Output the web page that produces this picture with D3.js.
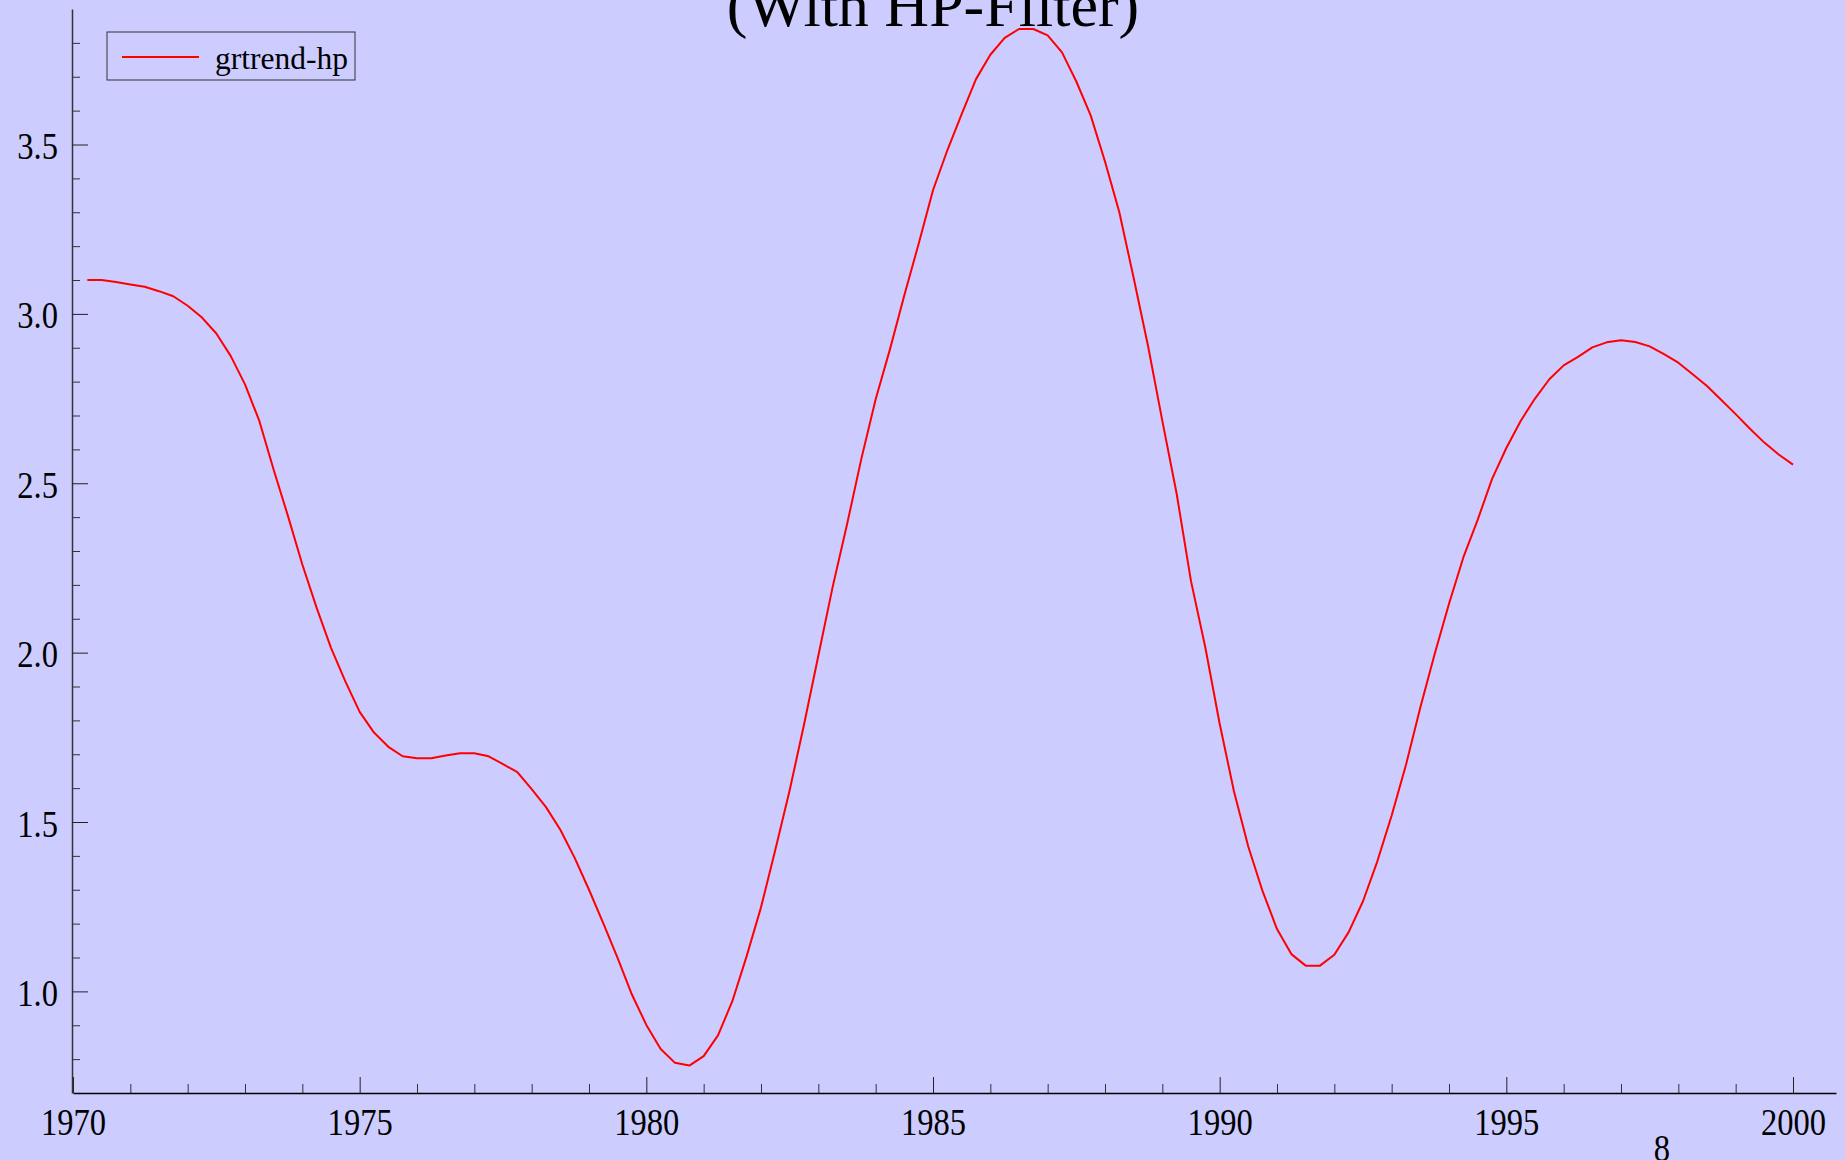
<!DOCTYPE html>
<html>
<head>
<meta charset="utf-8">
<script src="https://cdn.jsdelivr.net/npm/d3@7"></script>
<style>
  html, body { margin: 0; padding: 0; background: #ccccff; }
  svg { display: block; }
  text { font-family: "Liberation Serif", "Times New Roman", serif; fill: #000; }
</style>
</head>
<body>
<div id="chart"></div>
<script>
// grtrend-hp, quarterly, first observation 1970 Q2
const seriesName = "grtrend-hp";
const firstPeriod = 1970.25;
const periodStep = 0.25;
const grtrendHp = [
  3.100, 3.100, 3.094, 3.087, 3.080, 3.067, 3.052, 3.024, 2.989, 2.942,
  2.876, 2.792, 2.684, 2.540, 2.403, 2.260, 2.132, 2.014, 1.915, 1.825,
  1.764, 1.722, 1.694, 1.688, 1.688, 1.696, 1.703, 1.703, 1.694, 1.671,
  1.647, 1.597, 1.544, 1.477, 1.394, 1.300, 1.201, 1.098, 0.990, 0.901,
  0.830, 0.789, 0.781, 0.809, 0.870, 0.971, 1.104, 1.248, 1.418, 1.594,
  1.787, 1.991, 2.194, 2.378, 2.572, 2.748, 2.896, 3.055, 3.207, 3.365,
  3.483, 3.590, 3.693, 3.765, 3.815, 3.841, 3.841, 3.822, 3.772, 3.686,
  3.586, 3.450, 3.300, 3.106, 2.906, 2.684, 2.469, 2.211, 2.015, 1.790,
  1.590, 1.427, 1.295, 1.184, 1.110, 1.076, 1.076, 1.108, 1.175, 1.266,
  1.384, 1.519, 1.669, 1.838, 1.996, 2.144, 2.281, 2.392, 2.512, 2.604,
  2.684, 2.750, 2.807, 2.848, 2.873, 2.901, 2.916, 2.922, 2.917, 2.904,
  2.881, 2.856, 2.822, 2.787, 2.746, 2.704, 2.661, 2.620, 2.585, 2.555
];
const xMajorTicks = [1970, 1975, 1980, 1985, 1990, 1995, 2000];
const xMinorTicks = d3.range(1971, 2001).filter(y => y % 5 !== 0);
const yMajorTicks = [1.0, 1.5, 2.0, 2.5, 3.0, 3.5];
const yMinorTicks = [0.8, 0.9, 1.1, 1.2, 1.3, 1.4, 1.6, 1.7, 1.8, 1.9,
  2.1, 2.2, 2.3, 2.4, 2.6, 2.7, 2.8, 2.9, 3.1, 3.2, 3.3, 3.4, 3.6, 3.7, 3.8];
const titleText = "(With HP-Filter)";
const pageNumber = "8";

const W = 1845, H = 1160;
const squeeze = "scale(0.88,1)"; // tick digits are drawn narrow and tall

let data = grtrendHp.map((v, i) => ({ t: firstPeriod + i * periodStep, v: v }));

let svg = d3.select("#chart").append("svg")
  .attr("width", W)
  .attr("height", H);

svg.append("rect")
  .attr("width", W).attr("height", H)
  .attr("fill", "#ccccff");

//scales
let x = d3.scaleLinear().domain([1970, 2000.75]).range([73, 1836]);
let y = d3.scaleLinear().domain([0.7, 3.9]).range([1093, 9]);

//minor ticks first
svg.append("g")
  .attr("transform", "translate(0,1093)")
  .call(d3.axisBottom(x).tickValues(xMinorTicks).tickSize(-9).tickSizeOuter(0).tickFormat(""))
  .call(g => g.select(".domain").remove())
  .call(g => g.selectAll("line").attr("stroke", "#333"));

svg.append("g")
  .attr("transform", "translate(72,0)")
  .call(d3.axisLeft(y).tickValues(yMinorTicks).tickSize(-8).tickSizeOuter(0).tickFormat(""))
  .call(g => g.select(".domain").remove())
  .call(g => g.selectAll("line").attr("stroke", "#333"));

//major x axis
let xAxis = svg.append("g")
  .attr("transform", "translate(0,1093)")
  .call(d3.axisBottom(x).tickValues(xMajorTicks).tickSize(-16).tickSizeOuter(0)
    .tickPadding(16).tickFormat(d3.format("d")));
xAxis.select(".domain").attr("stroke", "#000").attr("stroke-width", 1.5);
xAxis.selectAll("line").attr("stroke", "#222");
xAxis.selectAll("text")
  .attr("transform", squeeze)
  .style("font-size", "37px")
  .style("font-family", "Liberation Serif");

//major y axis
let yAxis = svg.append("g")
  .attr("transform", "translate(72,0)")
  .call(d3.axisLeft(y).tickValues(yMajorTicks).tickSize(-16).tickSizeOuter(0)
    .tickPadding(16).tickFormat(d3.format(".1f")));
yAxis.select(".domain").attr("stroke", "#333").attr("stroke-width", 1.5);
yAxis.selectAll("line").attr("stroke", "#222");
yAxis.selectAll("text")
  .attr("transform", squeeze)
  .attr("dy", "0.38em")
  .style("font-size", "37px")
  .style("font-family", "Liberation Serif");

//the series
let line = d3.line()
  .x(d => x(d.t))
  .y(d => y(d.v));

svg.append("path")
  .datum(data)
  .attr("d", line)
  .attr("fill", "none")
  .attr("stroke", "#ff0000")
  .attr("stroke-width", 2)
  .attr("stroke-linejoin", "round");

//title, cut by the top of the page
svg.append("text")
  .attr("x", 933)
  .attr("y", 26)
  .attr("text-anchor", "middle")
  .style("font-size", "62px")
  .text(titleText);

//legend
let legend = svg.append("g");
legend.append("rect")
  .attr("x", 107).attr("y", 32)
  .attr("width", 248).attr("height", 48)
  .attr("fill", "none")
  .attr("stroke", "#333")
  .attr("stroke-width", 1);
legend.append("line")
  .attr("x1", 122).attr("x2", 199)
  .attr("y1", 57).attr("y2", 57)
  .attr("stroke", "#ff0000")
  .attr("stroke-width", 2);
legend.append("text")
  .attr("x", 215).attr("y", 69)
  .style("font-size", "31.5px")
  .text(seriesName);

//page number
svg.append("g")
  .attr("transform", "translate(1662,1161)")
  .append("text")
  .attr("transform", squeeze)
  .attr("text-anchor", "middle")
  .style("font-size", "37px")
  .text(pageNumber);
</script>
</body>
</html>
